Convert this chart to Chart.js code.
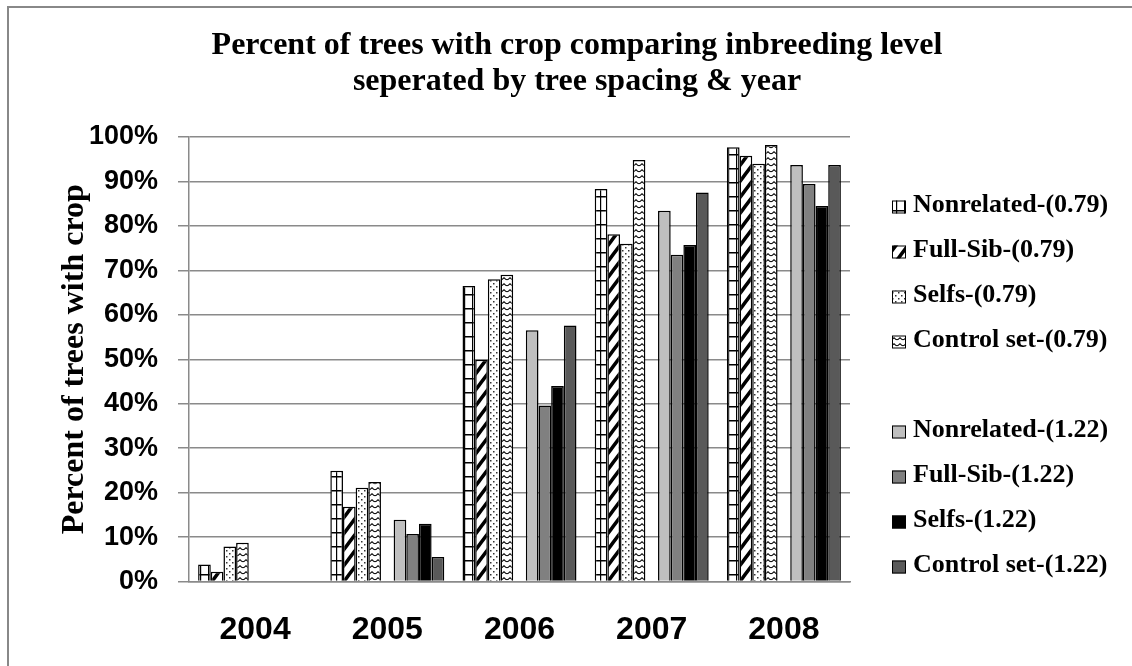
<!DOCTYPE html>
<html lang="en">
  <head>
    <meta charset="UTF-8" />
    <title>Percent of trees with crop</title>
    <script src="https://cdn.jsdelivr.net/npm/chart.js"></script>
    <style>
      body { margin: 0; background: #ffffff; }
      #wrap { position: relative; width: 1132px; height: 666px; }
    </style>
  </head>
  <body>
    <div id="wrap"><canvas id="cropChart"></canvas></div>

    <script>
      // values (percent of trees with crop)
      const years = ["2004", "2005", "2006", "2007", "2008"];
      const nonrelated079 = [3.8, 24.9, 66.5, 88.3, 97.7];
      const fullSib079 = [2.2, 16.8, 49.9, 78.1, 95.8];
      const selfs079 = [7.9, 21.1, 68.0, 76.0, 94.0];
      const control079 = [8.7, 22.4, 69.0, 94.8, 98.2];
      const nonrelated122 = [null, 13.9, 56.5, 83.4, 93.7];
      const fullSib122 = [null, 10.7, 39.6, 73.5, 89.4];
      const selfs122 = [null, 13.0, 44.0, 75.7, 84.5];
      const control122 = [null, 5.5, 57.6, 87.5, 93.7];
      const spacer = [null, null, null, null, null];
      const yTicks = [0, 10, 20, 30, 40, 50, 60, 70, 80, 90, 100];

      const ctx = document.getElementById("cropChart").getContext("2d");

      // small tiles for the Excel-like fill patterns
      function makePattern(w, h, draw) {
        const c = document.createElement("canvas");
        c.width = w;
        c.height = h;
        const g = c.getContext("2d");
        g.fillStyle = "#ffffff";
        g.fillRect(0, 0, w, h);
        g.fillStyle = "#000000";
        g.strokeStyle = "#000000";
        draw(g);
        return ctx.createPattern(c, "repeat");
      }

      const gridPattern = makePattern(8, 14, (g) => {
        g.fillRect(0, 0, 8, 1.5);
        g.fillRect(0, 0, 1.2, 14);
      });
      const diagPattern = makePattern(12, 16, (g) => {
        g.lineWidth = 3.5;
        g.beginPath();
        g.moveTo(-3, 20);
        g.lineTo(15, -4);
        g.moveTo(-15, 20);
        g.lineTo(3, -4);
        g.moveTo(9, 20);
        g.lineTo(27, -4);
        g.stroke();
      });
      const dotPattern = makePattern(6, 6, (g) => {
        g.fillStyle = "#333333";
        g.fillRect(1, 1, 1.5, 1.5);
        g.fillRect(4, 4, 1.5, 1.5);
      });
      const wavePattern = makePattern(6, 6, (g) => {
        g.lineWidth = 1.2;
        g.beginPath();
        g.moveTo(0, 1.5);
        g.quadraticCurveTo(3, 6, 6, 1.5);
        g.stroke();
      });

      function barSet(label, data, fill) {
        return {
          label: label,
          data: data,
          backgroundColor: fill,
          borderColor: "#000000",
          borderWidth: 1.5,
        };
      }

      const datasets = [
        barSet("Nonrelated-(0.79)", nonrelated079, gridPattern),
        barSet("Full-Sib-(0.79)", fullSib079, diagPattern),
        barSet("Selfs-(0.79)", selfs079, dotPattern),
        barSet("Control set-(0.79)", control079, wavePattern),
        { label: "", data: spacer, backgroundColor: "transparent", borderWidth: 0 },
        barSet("Nonrelated-(1.22)", nonrelated122, "#bfbfbf"),
        barSet("Full-Sib-(1.22)", fullSib122, "#808080"),
        barSet("Selfs-(1.22)", selfs122, "#000000"),
        barSet("Control set-(1.22)", control122, "#595959"),
      ];

      // white page with the grey frame at top and left
      const framePlugin = {
        id: "frame",
        beforeDraw(chart) {
          const c = chart.ctx;
          c.save();
          c.fillStyle = "#ffffff";
          c.fillRect(0, 0, chart.width, chart.height);
          c.strokeStyle = "#888888";
          c.lineWidth = 2;
          c.beginPath();
          c.moveTo(8, chart.height);
          c.lineTo(8, 7);
          c.lineTo(chart.width, 7);
          c.stroke();
          c.restore();
        },
      };

      // legend in the Excel style, spacer entry keeps the gap
      const sideLegend = {
        id: "sideLegend",
        afterDraw(chart) {
          const c = chart.ctx;
          const left = chart.chartArea.right + 42;
          c.save();
          c.font = 'bold 26px "Liberation Serif", "Times New Roman", serif';
          c.textBaseline = "middle";
          c.fillStyle = "#000000";
          chart.data.datasets.forEach((ds, i) => {
            if (!ds.label) return;
            const cy = chart.chartArea.top + 70 + i * 45;
            c.fillStyle = ds.backgroundColor;
            c.fillRect(left, cy - 6.5, 14, 13);
            c.strokeStyle = "#000000";
            c.lineWidth = 1;
            c.strokeRect(left + 0.5, cy - 6, 13, 12);
            c.fillStyle = "#000000";
            c.fillText(ds.label, left + 21, cy - 2);
          });
          c.restore();
        },
      };

      const gridGray = "#8a8a8a";

      new Chart(ctx, {
        type: "bar",
        data: { labels: years, datasets: datasets },
        plugins: [framePlugin, sideLegend],
        options: {
          responsive: true,
          maintainAspectRatio: false,
          animation: false,
          layout: { padding: { left: 22, right: 0, top: 0, bottom: 0 } },
          datasets: {
            bar: { barPercentage: 1.0, categoryPercentage: 0.862 },
          },
          plugins: {
            legend: { display: false },
            tooltip: { enabled: false },
            title: {
              display: true,
              text: [
                "Percent of trees with crop comparing inbreeding level",
                "seperated by tree spacing & year",
              ],
              color: "#000000",
              font: {
                family: '"Liberation Serif", "Times New Roman", serif',
                size: 32,
                weight: "bold",
                lineHeight: 1.125,
              },
              padding: { top: 27.5, bottom: 37.5 },
            },
          },
          scales: {
            x: {
              grid: { display: false, drawTicks: false },
              border: { display: true, color: gridGray, width: 1.5 },
              ticks: {
                color: "#000000",
                padding: 29,
                font: {
                  family: '"Liberation Sans", Arial, sans-serif',
                  size: 32,
                  weight: "bold",
                },
              },
              afterFit(scale) {
                scale.height = 84.5;
              },
            },
            y: {
              min: 0,
              max: 100,
              afterBuildTicks(scale) {
                scale.ticks = yTicks.map((v) => ({ value: v }));
              },
              grid: {
                color: gridGray,
                lineWidth: 1.5,
                tickLength: 11,
                drawTicks: true,
              },
              border: { display: true, color: gridGray, width: 1.5 },
              ticks: {
                color: "#000000",
                padding: 20,
                callback: (v) => v + "%",
                font: {
                  family: '"Liberation Sans", Arial, sans-serif',
                  size: 27,
                  weight: "bold",
                },
              },
              title: {
                display: true,
                text: "Percent of trees with crop",
                color: "#000000",
                padding: { top: 34, bottom: 0 },
                font: {
                  family: '"Liberation Serif", "Times New Roman", serif',
                  size: 32,
                  weight: "bold",
                },
              },
              afterFit(scale) {
                scale.width = 167;
              },
            },
            yR: {
              position: "right",
              display: true,
              grid: { display: false, drawTicks: false },
              border: { display: false },
              ticks: { display: false },
              afterFit(scale) {
                scale.width = 282;
              },
            },
          },
        },
      });
    </script>
  </body>
</html>
